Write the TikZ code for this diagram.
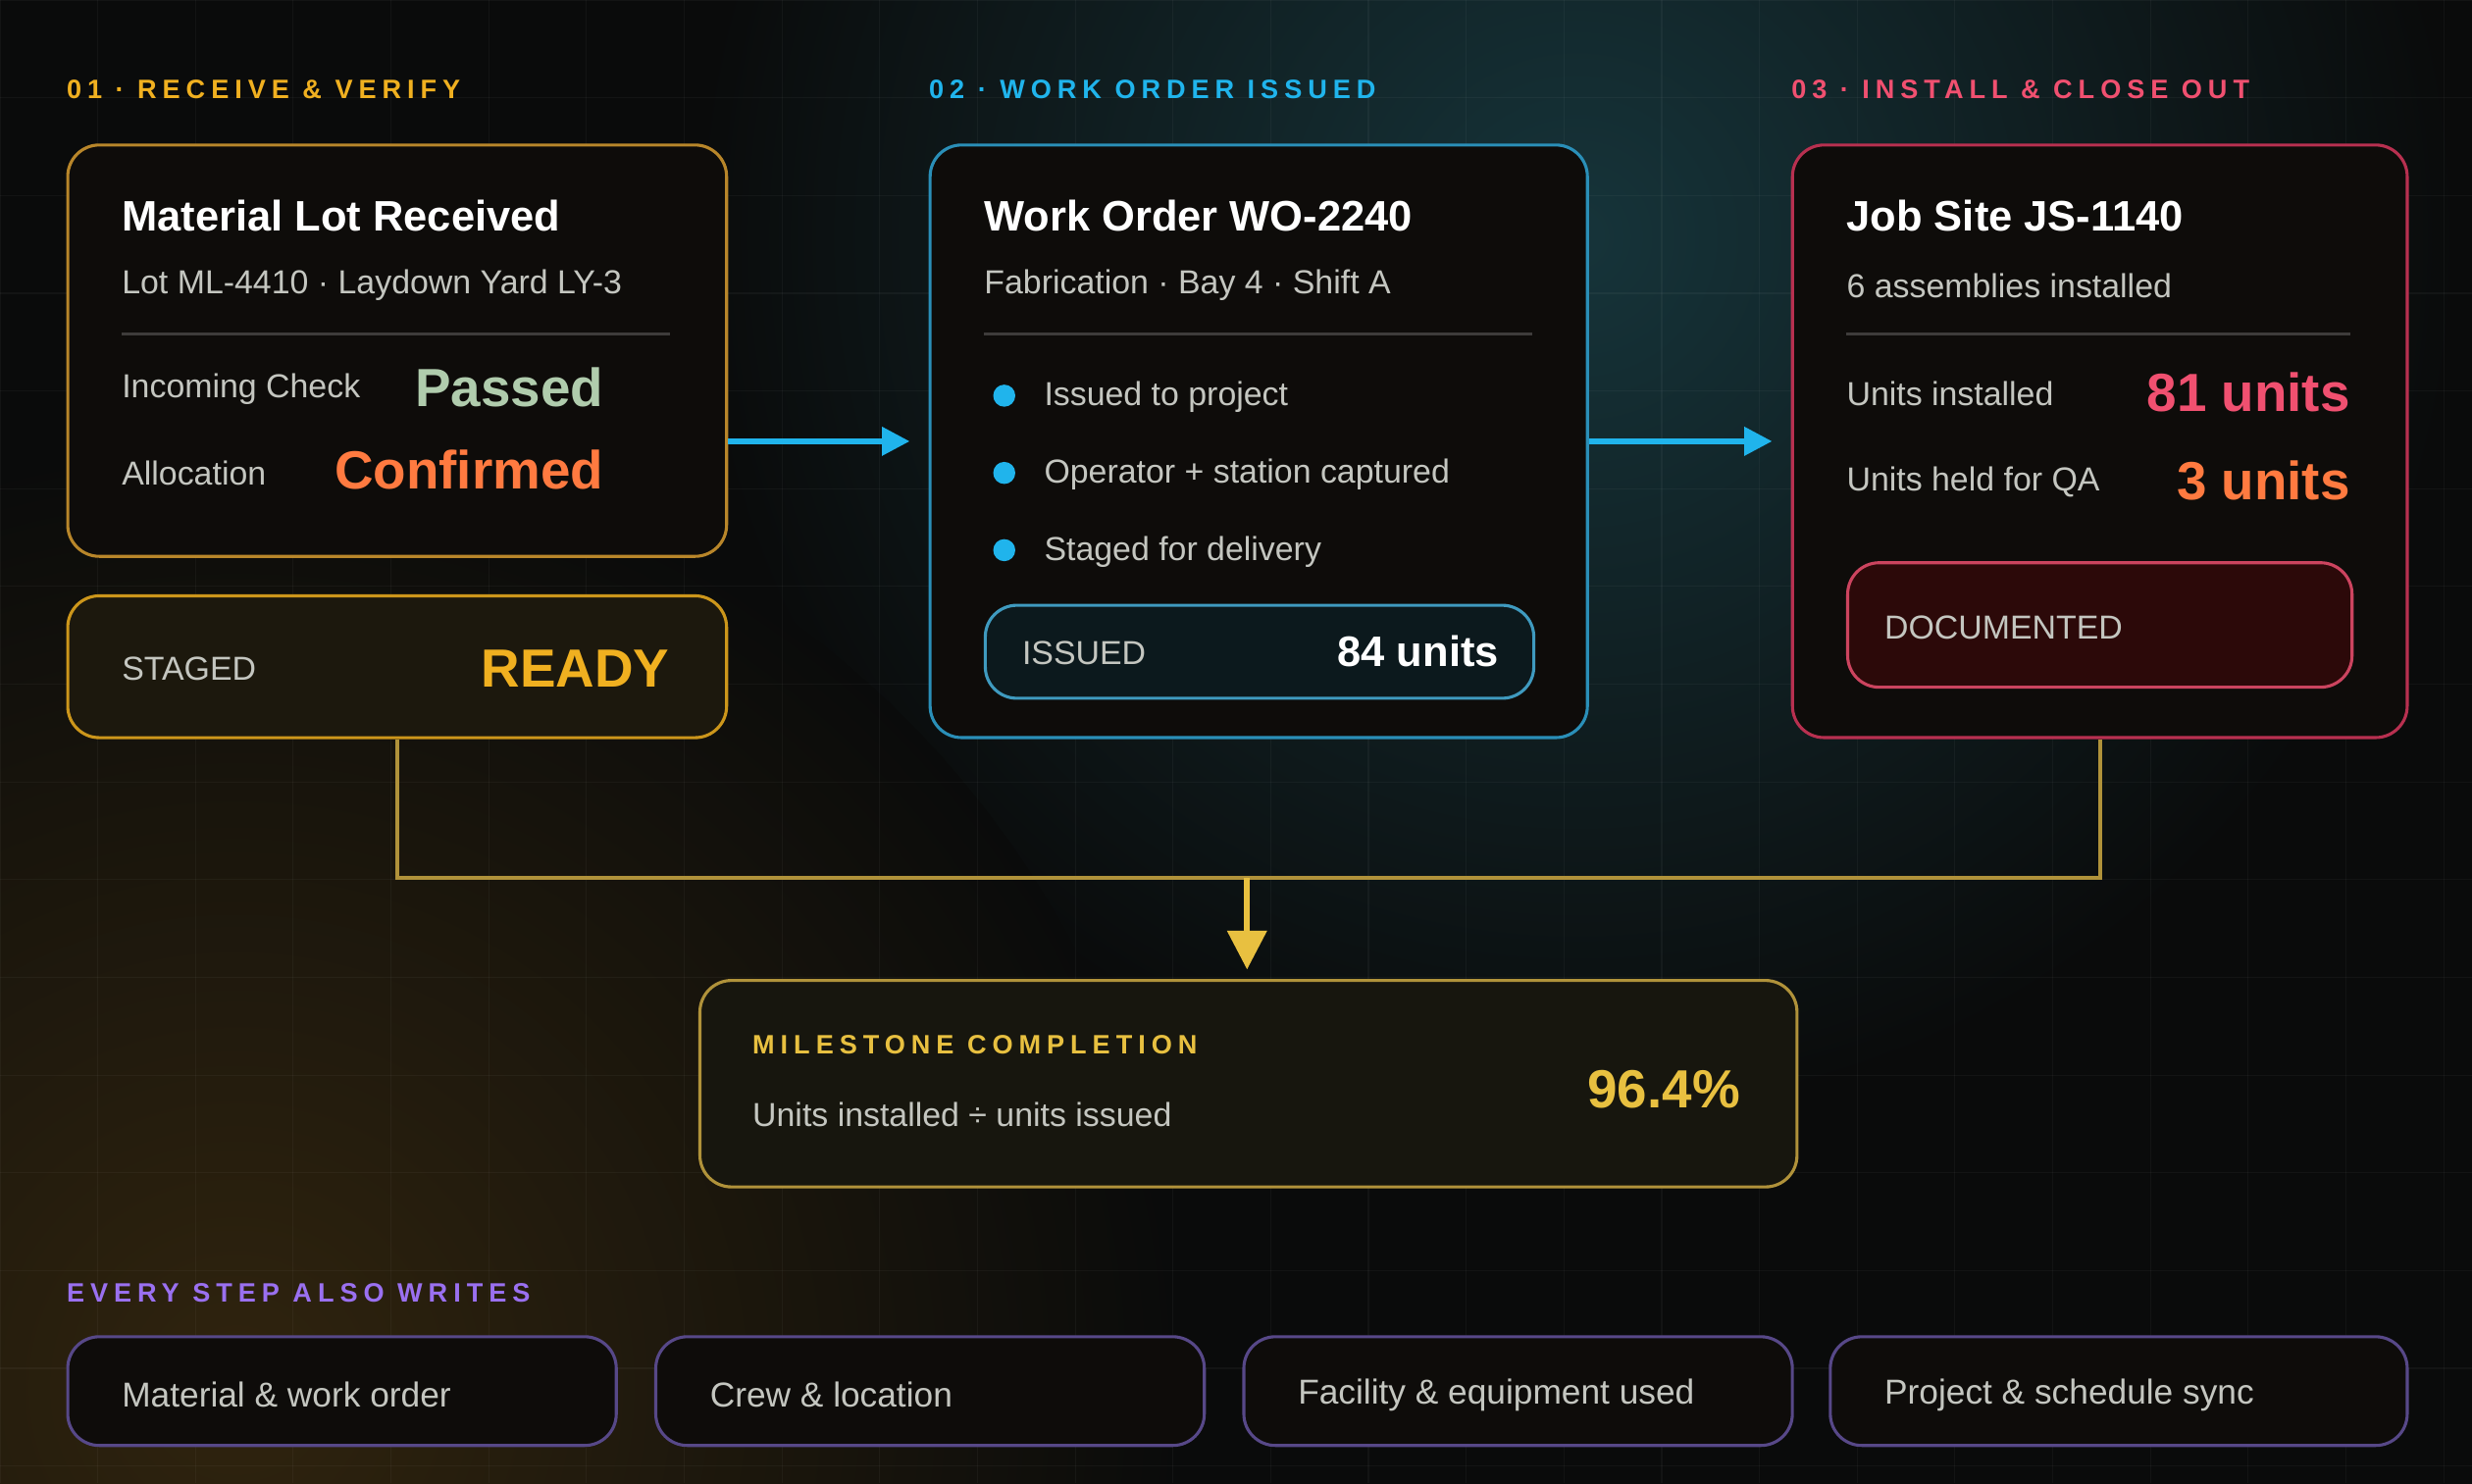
\documentclass[tikz,border=0pt]{standalone}
\usepackage{fontspec}
\setmainfont{Liberation Sans}
\usetikzlibrary{arrows.meta, positioning}
\tikzset{>={Triangle[length=10pt,width=10pt]}}

\definecolor{bgc}{HTML}{0A0B0B}
\definecolor{cardbg}{HTML}{0E0C0A}
\definecolor{ambr}{HTML}{B8862A}
\definecolor{gold}{HTML}{F0B020}
\definecolor{skyb}{HTML}{20B4EC}
\definecolor{skyline}{HTML}{2A8FB8}
\definecolor{rosec}{HTML}{F05070}
\definecolor{roseline}{HTML}{B83050}
\definecolor{orng}{HTML}{FF7A40}
\definecolor{purp}{HTML}{9A70F0}
\definecolor{purpline}{HTML}{574888}
\definecolor{mile}{HTML}{E8C040}
\definecolor{mileline}{HTML}{B0923A}
\definecolor{softg}{HTML}{C4C6C0}
\definecolor{glowt}{HTML}{16343A}
\definecolor{glowb}{HTML}{30240E}

\tikzset{
  card/.style={draw=#1, line width=1.1pt, fill=cardbg, rounded corners=0.4cm, anchor=north west, inner sep=0pt},
  head/.style={anchor=west, inner sep=0pt, text=#1, font=\bfseries\fontsize{9.6}{11}\selectfont\addfontfeature{LetterSpace=22}},
  ttl/.style={anchor=west, inner sep=0pt, text=white, font=\bfseries\fontsize{15.4}{18}\selectfont},
  sub/.style={anchor=west, inner sep=0pt, text=softg, font=\fontsize{12}{14}\selectfont},
  big/.style={inner sep=0pt, text=#1, font=\bfseries\fontsize{19.4}{22}\selectfont},
  flow/.style={->, skyb, line width=2pt, shorten >=0.24cm},
  feed/.style={mileline, line width=1.5pt},
}

\begin{document}
\begin{tikzpicture}[x=0.02cm, y=-0.02cm]
\useasboundingbox (0,0) rectangle (1568,941);

% --- background ---
\begin{scope}
\clip (0,0) rectangle (1568,941);
\fill[bgc] (-5,-5) rectangle (1575,950);
\shade[inner color=glowt, outer color=bgc] (1000,150) circle (560);
\shade[inner color=glowb, outer color=bgc] (150,880) circle (600);
\foreach \gx in {0,62,...,1568} \draw[white, opacity=0.04] (\gx,0) -- (\gx,941);
\foreach \gy in {0,62,...,930} \draw[white, opacity=0.04] (0,\gy) -- (1568,\gy);
\end{scope}

% --- step headers ---
\node[head=gold] (h1) at (42,57) {01 · RECEIVE \& VERIFY};
\node[head=skyb] (h2) at (589,57) {02 · WORK ORDER ISSUED};
\node[head=rosec] (h3) at (1136,57) {03 · INSTALL \& CLOSE OUT};

% --- card 1 ---
\node[card=ambr, minimum width=8.36cm, minimum height=5.22cm] (lot) at (42,91) {};
\node[ttl] (lotT) at (77,137) {Material Lot Received};
\node[sub] (lotS) at (77,181) {Lot ML-4410 · Laydown Yard LY-3};
\draw[white, opacity=0.2, line width=1pt] (77,212) -- (425,212);
\node[sub] (chk) at (77,247) {Incoming Check};
\node[big=softg!90!green, anchor=east] (pass) at (383,246) {Passed};
\node[sub] (alloc) at (77,300) {Allocation};
\node[big=orng, anchor=east] (conf) at (383,298) {Confirmed};

\node[card=gold!85!black, fill=gold!8!bgc, minimum width=8.36cm, minimum height=1.8cm] (staged) at (42,377) {};
\node[sub] (stL) at (77,424) {STAGED};
\node[big=gold, anchor=east] (ready) at (425,424) {READY};

% --- card 2 ---
\node[card=skyline, minimum width=8.34cm, minimum height=7.52cm] (wo) at (589,91) {};
\node[ttl] (woT) at (624,137) {Work Order WO-2240};
\node[sub] (woS) at (624,181) {Fabrication · Bay 4 · Shift A};
\draw[white, opacity=0.2, line width=1pt] (624,212) -- (972,212);
\foreach \by/\bt [count=\bi] in {251/Issued to project, 300/Operator + station captured, 349/Staged for delivery} {
  \fill[skyb] (637,\by) circle (7);
  \node[sub] (bul\bi) at (662,\by+1) {\bt};
}
\node[card=skyline!90!white, fill=skyb!8!bgc, minimum width=6.96cm, minimum height=1.18cm] (iss) at (624,383) {};
\node[sub] (issL) at (648,414) {ISSUED};
\node[inner sep=0pt, text=white, anchor=east, font=\bfseries\fontsize{15.4}{18}\selectfont] (issV) at (951,413) {84 units};

% --- card 3 ---
\node[card=roseline, minimum width=7.8cm, minimum height=7.52cm] (js) at (1136,91) {};
\node[ttl] (jsT) at (1171,137) {Job Site JS-1140};
\node[sub] (jsS) at (1171,181) {6 assemblies installed};
\draw[white, opacity=0.2, line width=1pt] (1171,212) -- (1491,212);
\node[sub] (inst) at (1171,250) {Units installed};
\node[big=rosec, anchor=east] (instV) at (1491,249) {81 units};
\node[sub] (held) at (1171,306) {Units held for QA};
\node[big=orng, anchor=east] (heldV) at (1491,305) {3 units};
\node[card=rosec!85!black, fill=red!14!bgc, minimum width=6.4cm, minimum height=1.58cm] (doc) at (1171,356) {};
\node[sub] (docL) at (1195,398) {DOCUMENTED};

% --- flow arrows ---
\draw[flow] (lot.east |- wo.west) -- (wo.west);
\draw[flow] (wo.east) -- (js.west);

% --- milestone feed ---
\coordinate (jl) at (staged.south |- 0,557);
\coordinate (jr) at (js.south |- 0,557);
\coordinate (jm) at (791,557);
\draw[feed] (staged.south) -- (jl) -- (jr) -- (js.south);
\node[card=mileline, fill=mile!6!bgc, minimum width=13.92cm, minimum height=2.62cm] (ms) at (443,621) {};
\draw[feed, ->, mile, line width=2pt, shorten >=0.12cm, >={Triangle[length=14pt,width=14pt]}] (jm) -- (ms.north -| jm);
\node[head=mile] (msH) at (477,663) {MILESTONE COMPLETION};
\node[sub] (msS) at (477,707) {Units installed ÷ units issued};
\node[big=mile, anchor=east] (msV) at (1104,691) {96.4\%};

% --- bottom writes ---
\node[head=purp] (bh) at (42,820) {EVERY STEP ALSO WRITES};
\foreach \wx/\ww/\wt [count=\wi] in {42/6.96/Material \& work order, 415/6.96/Crew \& location, 788/6.96/Facility \& equipment used, 1160/7.32/Project \& schedule sync} {
  \node[card=purpline, minimum width=\ww cm, minimum height=1.38cm] (w\wi) at (\wx,847) {};
  \node[sub, font=\fontsize{12.5}{14}\selectfont] (wt\wi) at (\wx+35,885) {\wt};
}

\end{tikzpicture}
\end{document}
